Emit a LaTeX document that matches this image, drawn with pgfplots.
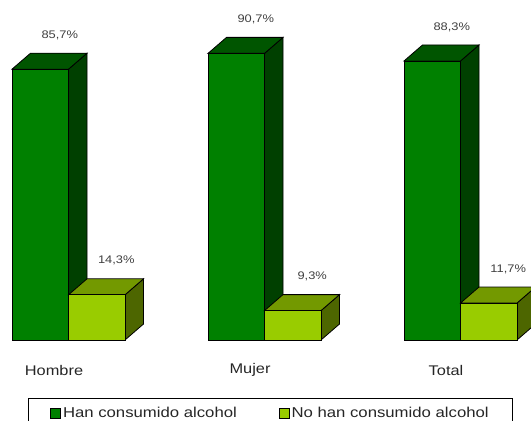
\documentclass[border=0pt]{standalone}
\usepackage{fontspec}
\setmainfont{Liberation Sans}[FakeStretch=1.17]
\usepackage{pgfplots}
\pgfplotsset{compat=1.18}
\definecolor{gfront}{RGB}{0,128,0}
\definecolor{gtop}{RGB}{0,85,0}
\definecolor{gside}{RGB}{0,64,0}
\definecolor{lfront}{RGB}{153,204,0}
\definecolor{ltop}{RGB}{115,153,0}
\definecolor{lside}{RGB}{77,102,0}
\begin{document}
\begin{tikzpicture}
\begin{axis}[
  scale only axis, width=531pt, height=421pt,
  xmin=0, xmax=531, ymin=-25.633, ymax=107.595,
  clip=false,
  axis line style={draw=none}, tick style={draw=none},
  ytick=\empty,
  xtick={54,250,446},
  xticklabels={Hombre,Mujer,Total},
  xticklabel style={anchor=center, yshift=51pt, font=\fontsize{14}{16}\selectfont, text=black!85},
  every axis plot/.append style={line width=0.8pt},
  legend columns=2,
  legend style={at={(0.05273,0.05463)}, anchor=north west, draw=black, line width=0.8pt,
    font=\fontsize{14.3}{16}\selectfont, inner xsep=22pt, inner ysep=7pt, text=black!85,
    /tikz/every even column/.append style={column sep=40pt}},
  /pgf/number format/.cd, use comma, fixed, fixed zerofill, precision=1, assume math mode=true,
]
% green bars: sides and tops
\addplot[forget plot, fill=gside, draw=black] coordinates {(68.5,0) (87,5.06) (87,90.76) (68.5,85.7)} -- cycle;
\addplot[forget plot, fill=gtop, draw=black] coordinates {(12,85.7) (68.5,85.7) (87,90.76) (30.5,90.76)} -- cycle;
\addplot[forget plot, fill=gside, draw=black] coordinates {(264.5,0) (283,5.06) (283,95.76) (264.5,90.7)} -- cycle;
\addplot[forget plot, fill=gtop, draw=black] coordinates {(208,90.7) (264.5,90.7) (283,95.76) (226.5,95.76)} -- cycle;
\addplot[forget plot, fill=gside, draw=black] coordinates {(460.5,0) (479,5.06) (479,93.36) (460.5,88.3)} -- cycle;
\addplot[forget plot, fill=gtop, draw=black] coordinates {(404,88.3) (460.5,88.3) (479,93.36) (422.5,93.36)} -- cycle;
% green fronts
\addplot[ybar, bar width=56.5, bar shift=0pt, fill=gfront, draw=black,
  legend image code/.code={\draw[fill=gfront,draw=black,line width=0.6pt] (1pt,-5pt) rectangle (11pt,5pt);},
  point meta=y, nodes near coords={\pgfmathprintnumber{\pgfplotspointmeta}\%},
  every node near coord/.append style={anchor=center, xshift=19.5pt, yshift=34pt, font=\fontsize{11}{13}\selectfont, text=black!75}]
  coordinates {(40.25,85.7) (236.25,90.7) (432.25,88.3)};
\addlegendentry{Han consumido alcohol}
% light bars: sides and tops
\addplot[forget plot, fill=lside, draw=black] coordinates {(125,0) (143.5,5.06) (143.5,19.36) (125,14.3)} -- cycle;
\addplot[forget plot, fill=ltop, draw=black] coordinates {(68.5,14.3) (125,14.3) (143.5,19.36) (87,19.36)} -- cycle;
\addplot[forget plot, fill=lside, draw=black] coordinates {(321,0) (339.5,5.06) (339.5,14.36) (321,9.3)} -- cycle;
\addplot[forget plot, fill=ltop, draw=black] coordinates {(264.5,9.3) (321,9.3) (339.5,14.36) (283,14.36)} -- cycle;
\addplot[forget plot, fill=lside, draw=black] coordinates {(517,0) (535.5,5.06) (535.5,16.76) (517,11.7)} -- cycle;
\addplot[forget plot, fill=ltop, draw=black] coordinates {(460.5,11.7) (517,11.7) (535.5,16.76) (479,16.76)} -- cycle;
% light fronts
\addplot[ybar, bar width=56.5, bar shift=0pt, fill=lfront, draw=black,
  legend image code/.code={\draw[fill=lfront,draw=black,line width=0.6pt] (1pt,-5pt) rectangle (11pt,5pt);},
  point meta=y, nodes near coords={\pgfmathprintnumber{\pgfplotspointmeta}\%},
  every node near coord/.append style={anchor=center, xshift=19.5pt, yshift=34pt, font=\fontsize{11}{13}\selectfont, text=black!75}]
  coordinates {(96.75,14.3) (292.75,9.3) (488.75,11.7)};
\addlegendentry{No han consumido alcohol}
\end{axis}
\pgfresetboundingbox
\useasboundingbox (current axis.south west) rectangle (current axis.north east);
\end{tikzpicture}
\end{document}
